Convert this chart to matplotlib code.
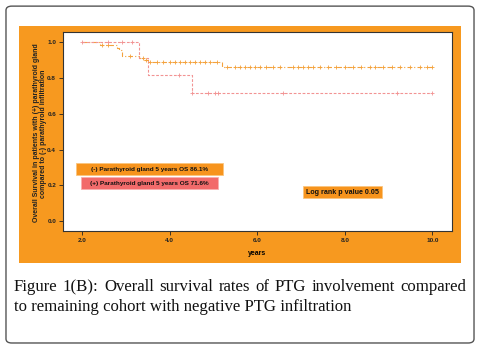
import matplotlib
matplotlib.use("Agg")
import matplotlib.pyplot as plt
from matplotlib.patches import FancyBboxPatch, Rectangle

# Data: Kaplan-Meier step curves
neg_t = [2.0, 2.4, 2.8, 2.85, 2.9, 3.3, 3.4, 3.5, 5.2, 10.0]
neg_s = [1.0, 0.985, 0.97, 0.955, 0.925, 0.91, 0.90, 0.888, 0.861, 0.861]
neg_cens_t = [2.45, 2.6, 3.1, 3.39, 3.45, 3.55, 3.70, 3.85, 4.0, 4.12, 4.23, 4.35, 4.47, 4.58,
              4.70, 4.81, 4.93, 5.07,
              5.30, 5.49, 5.60, 5.72, 5.83, 5.95, 6.06, 6.21, 6.37, 6.52, 6.82, 6.94,
              7.05, 7.17, 7.28, 7.43, 7.62, 7.81, 8.00, 8.19, 8.38, 8.58, 8.69, 8.88,
              9.07, 9.26, 9.49, 9.72, 9.87, 10.0]
neg_cens_s = [0.985, 0.985, 0.925, 0.91, 0.90] + [0.888] * 13 + [0.861] * 30

pos_t = [2.0, 3.3, 3.5, 4.5, 10.0]
pos_s = [1.0, 0.91, 0.82, 0.716, 0.716]
pos_cens_t = [2.0, 2.6, 2.9, 3.13, 4.2, 4.51, 4.88, 5.03, 5.1, 6.59, 9.19, 10.0]
pos_cens_s = [1.0, 1.0, 1.0, 1.0, 0.82, 0.716, 0.716, 0.716, 0.716, 0.716, 0.716, 0.716]

x_ticks = [2.0, 4.0, 6.0, 8.0, 10.0]
y_ticks = [0.0, 0.2, 0.4, 0.6, 0.8, 1.0]

ylabel_lines = ["Overall Survival in patients with (+) parathyroid gland",
                "compared to (-) parathyroid infiltration"]
box_texts = ["(-) Parathyroid gland 5 years OS 86.1%",
             "(+) Parathyroid gland 5 years OS 71.6%",
             "Log rank p value 0.05"]
caption_lines = ["Figure 1(B): Overall survival rates of PTG involvement compared",
                 "to remaining cohort with negative PTG infiltration"]

ORANGE_BG = "#F7991F"
NEG_COL = "#F4A23C"
POS_COL = "#F29393"

W, H = 483.0, 348.0
def fx(px):
    return px / W
def fy(py):
    return 1 - py / H

fig = plt.figure(figsize=(4.83, 3.48), dpi=100)
fig.patch.set_facecolor("white")

# outer rounded frame
frame = FancyBboxPatch((0.0124, 0.0144), 0.969, 0.968, boxstyle="round,pad=0,rounding_size=0.012",
                       transform=fig.transFigure, facecolor="white", edgecolor="#555555",
                       linewidth=1.0, zorder=-2)
fig.patches.append(frame)
# orange background
bg = Rectangle((0.0393, 0.2443), 0.915, 0.681, transform=fig.transFigure,
               facecolor=ORANGE_BG, edgecolor="none", zorder=-1)
fig.patches.append(bg)

ax = fig.add_axes([0.1304, 0.3362, 0.8054, 0.5718])
ax.set_zorder(2)
ax.set_facecolor("white")
ax.set_xlim(1.56, 10.45)
ax.set_ylim(-0.056, 1.058)

ax.step(neg_t, neg_s, where="post", color=NEG_COL, lw=0.8, linestyle=(0, (4, 2, 1, 2)))
ax.step(pos_t, pos_s, where="post", color=POS_COL, lw=0.8, linestyle=(0, (2.5, 1.5)))
ax.plot(neg_cens_t, neg_cens_s, linestyle="none", marker="+", color=NEG_COL, ms=3.2, mew=0.6)
ax.plot(pos_cens_t, pos_cens_s, linestyle="none", marker="+", color=POS_COL, ms=3.2, mew=0.6)

ax.set_xticks(x_ticks)
ax.set_xticklabels([f"{v:.1f}" for v in x_ticks])
ax.set_yticks(y_ticks)
ax.set_yticklabels([f"{v:.1f}" for v in y_ticks])
ax.tick_params(direction="out", length=3, width=0.6, labelsize=4.6, pad=2, colors="#222222")
for lab in ax.get_xticklabels() + ax.get_yticklabels():
    lab.set_fontweight("bold")
    lab.set_family("Liberation Sans")
for s in ax.spines.values():
    s.set_color("#333333")
    s.set_linewidth(0.8)

ax.set_xlabel("years", fontsize=5, fontweight="bold", family="Liberation Sans", labelpad=5)

# y label as two rotated lines
lab_kw = dict(fontsize=5.0, family="Liberation Sans", fontweight="bold", rotation=90,
              ha="center", va="center", color="#222222")
fig.text(fx(36.5), fy(132.5), ylabel_lines[0], **lab_kw)
fig.text(fx(43.5), fy(134), ylabel_lines[1], **lab_kw)

# annotation boxes (pixel rectangles) with centred text
boxes = [((76, 163, 223, 175), "#F7941D", "#FBC57E", 4.6),
         ((81, 177, 218, 189), "#F26B6B", "#F8B0B0", 4.6),
         ((303, 186, 382, 198), "#F7941D", "#FBC57E", 5.1)]
for i, (rect, fc, ec, fs_) in enumerate(boxes):
    x0, y0, x1, y1 = rect
    r = Rectangle((fx(x0), fy(y1)), fx(x1) - fx(x0), fy(y0) - fy(y1), transform=fig.transFigure,
                  facecolor=fc, edgecolor=ec, lw=0.6, zorder=5)
    fig.add_artist(r)
    t = fig.text(fx((x0 + x1) / 2), fy((y0 + y1) / 2), box_texts[i], fontsize=fs_, fontweight="bold",
                 family="Liberation Sans", ha="center", va="center", color="#111111")
    t.set_zorder(6)

# caption (first line justified)
cap_fs = 12.1
x_left, x_right = 14.0 / W, 466.0 / W
renderer = fig.canvas.get_renderer()
ys = [1 - 287.0 / H, 1 - 307.0 / H]
kw = dict(fontsize=cap_fs, family="Liberation Serif", color="#111111", va="center", ha="left")
words = caption_lines[0].split(" ")
widths = []
for w in words:
    t = fig.text(0, 0, w, **kw)
    bb = t.get_window_extent(renderer=renderer)
    widths.append(bb.width / W)
    t.remove()
gap = (x_right - x_left - sum(widths)) / (len(words) - 1)
x = x_left
for w, wd in zip(words, widths):
    fig.text(x, ys[0], w, **kw)
    x += wd + gap
fig.text(x_left, ys[1], caption_lines[1], **kw)

fig.savefig("out.png", dpi=100, facecolor="white")
